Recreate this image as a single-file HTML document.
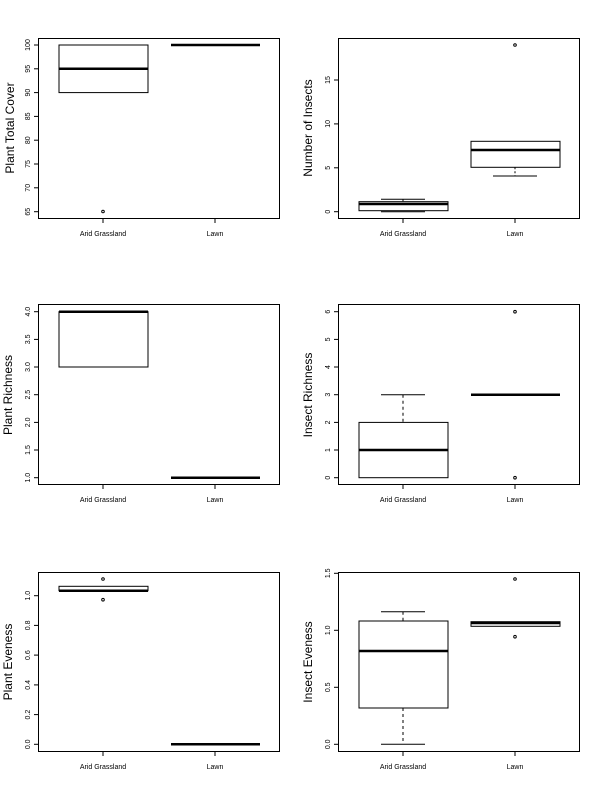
<!DOCTYPE html>
<html><head><meta charset="utf-8"><style>html,body{margin:0;padding:0;background:#fff}svg{display:block}</style></head>
<body>
<svg width="600" height="800" xmlns="http://www.w3.org/2000/svg" font-family="Liberation Sans, sans-serif">
<rect width="600" height="800" fill="#fff"/>
<g stroke="#000" fill="none" stroke-width="1">
<!-- frames -->
<rect x="38.5" y="38.5" width="241" height="180"/>
<rect x="338.5" y="38.5" width="241" height="180"/>
<rect x="38.5" y="304.5" width="241" height="180"/>
<rect x="338.5" y="304.5" width="241" height="180"/>
<rect x="38.5" y="572.5" width="241" height="179"/>
<rect x="338.5" y="572.5" width="241" height="179"/>
</g>

<!-- ============ Panel 1: Plant Total Cover ============ -->
<g stroke="#000" fill="none">
<line x1="38.5" y1="45" x2="38.5" y2="211.7"/>
<line x1="34" y1="45" x2="38.5" y2="45"/><line x1="34" y1="68.8" x2="38.5" y2="68.8"/><line x1="34" y1="92.6" x2="38.5" y2="92.6"/><line x1="34" y1="116.4" x2="38.5" y2="116.4"/><line x1="34" y1="140.2" x2="38.5" y2="140.2"/><line x1="34" y1="164" x2="38.5" y2="164"/><line x1="34" y1="187.8" x2="38.5" y2="187.8"/><line x1="34" y1="211.7" x2="38.5" y2="211.7"/>
<line x1="103" y1="218.5" x2="215" y2="218.5"/><line x1="103" y1="218.5" x2="103" y2="223"/><line x1="215" y1="218.5" x2="215" y2="223"/>
<rect x="59" y="45" width="89" height="47.6"/>
<line x1="59" y1="68.8" x2="148" y2="68.8" stroke-width="2.5"/>
<line x1="171" y1="45" x2="260" y2="45" stroke-width="2.5"/>
<circle cx="103" cy="211.5" r="1.3"/>
</g>
<g font-size="7" text-anchor="middle">
<text transform="translate(30,45) rotate(-90)">100</text><text transform="translate(30,68.8) rotate(-90)">95</text><text transform="translate(30,92.6) rotate(-90)">90</text><text transform="translate(30,116.4) rotate(-90)">85</text><text transform="translate(30,140.2) rotate(-90)">80</text><text transform="translate(30,164) rotate(-90)">75</text><text transform="translate(30,187.8) rotate(-90)">70</text><text transform="translate(30,211.7) rotate(-90)">65</text>
<text x="103" y="236">Arid Grassland</text><text x="215" y="236">Lawn</text>
</g>
<text transform="translate(14,128) rotate(-90)" font-size="12" text-anchor="middle">Plant Total Cover</text>

<!-- ============ Panel 2: Number of Insects ============ -->
<g stroke="#000" fill="none">
<line x1="338.5" y1="80" x2="338.5" y2="211.7"/>
<line x1="334" y1="80" x2="338.5" y2="80"/><line x1="334" y1="123.9" x2="338.5" y2="123.9"/><line x1="334" y1="167.8" x2="338.5" y2="167.8"/><line x1="334" y1="211.7" x2="338.5" y2="211.7"/>
<line x1="403" y1="218.5" x2="515" y2="218.5"/><line x1="403" y1="218.5" x2="403" y2="223"/><line x1="515" y1="218.5" x2="515" y2="223"/>
<rect x="359" y="201.7" width="89" height="9"/>
<line x1="359" y1="204" x2="448" y2="204" stroke-width="2.5"/>
<line x1="403" y1="199.3" x2="403" y2="201.7" stroke-dasharray="2,2"/><line x1="381" y1="199.3" x2="425" y2="199.3"/>
<line x1="381" y1="211.7" x2="425" y2="211.7"/>
<rect x="471" y="141.3" width="89" height="26"/>
<line x1="471" y1="150" x2="560" y2="150" stroke-width="2.5"/>
<line x1="515" y1="167.3" x2="515" y2="176" stroke-dasharray="2,2"/><line x1="493" y1="176" x2="537" y2="176"/>
<circle cx="515" cy="45" r="1.3"/>
</g>
<g font-size="7" text-anchor="middle">
<text transform="translate(330,80) rotate(-90)">15</text><text transform="translate(330,123.9) rotate(-90)">10</text><text transform="translate(330,167.8) rotate(-90)">5</text><text transform="translate(330,211.7) rotate(-90)">0</text>
<text x="403" y="236">Arid Grassland</text><text x="515" y="236">Lawn</text>
</g>
<text transform="translate(312,128) rotate(-90)" font-size="12" text-anchor="middle">Number of Insects</text>

<!-- ============ Panel 3: Plant Richness ============ -->
<g stroke="#000" fill="none">
<line x1="38.5" y1="311.7" x2="38.5" y2="477.7"/>
<line x1="34" y1="311.7" x2="38.5" y2="311.7"/><line x1="34" y1="339.4" x2="38.5" y2="339.4"/><line x1="34" y1="367" x2="38.5" y2="367"/><line x1="34" y1="394.7" x2="38.5" y2="394.7"/><line x1="34" y1="422.4" x2="38.5" y2="422.4"/><line x1="34" y1="450" x2="38.5" y2="450"/><line x1="34" y1="477.7" x2="38.5" y2="477.7"/>
<line x1="103" y1="484.5" x2="215" y2="484.5"/><line x1="103" y1="484.5" x2="103" y2="489"/><line x1="215" y1="484.5" x2="215" y2="489"/>
<rect x="59" y="311.7" width="89" height="55.3"/>
<line x1="59" y1="311.7" x2="148" y2="311.7" stroke-width="2.5"/>
<line x1="171" y1="477.7" x2="260" y2="477.7" stroke-width="2.5"/>
</g>
<g font-size="7" text-anchor="middle">
<text transform="translate(30,311.7) rotate(-90)">4.0</text><text transform="translate(30,339.4) rotate(-90)">3.5</text><text transform="translate(30,367) rotate(-90)">3.0</text><text transform="translate(30,394.7) rotate(-90)">2.5</text><text transform="translate(30,422.4) rotate(-90)">2.0</text><text transform="translate(30,450) rotate(-90)">1.5</text><text transform="translate(30,477.7) rotate(-90)">1.0</text>
<text x="103" y="502">Arid Grassland</text><text x="215" y="502">Lawn</text>
</g>
<text transform="translate(12,395) rotate(-90)" font-size="12" text-anchor="middle">Plant Richness</text>

<!-- ============ Panel 4: Insect Richness ============ -->
<g stroke="#000" fill="none">
<line x1="338.5" y1="311.7" x2="338.5" y2="477.7"/>
<line x1="334" y1="311.7" x2="338.5" y2="311.7"/><line x1="334" y1="339.4" x2="338.5" y2="339.4"/><line x1="334" y1="367" x2="338.5" y2="367"/><line x1="334" y1="394.7" x2="338.5" y2="394.7"/><line x1="334" y1="422.4" x2="338.5" y2="422.4"/><line x1="334" y1="450" x2="338.5" y2="450"/><line x1="334" y1="477.7" x2="338.5" y2="477.7"/>
<line x1="403" y1="484.5" x2="515" y2="484.5"/><line x1="403" y1="484.5" x2="403" y2="489"/><line x1="515" y1="484.5" x2="515" y2="489"/>
<rect x="359" y="422.4" width="89" height="55.3"/>
<line x1="359" y1="450" x2="448" y2="450" stroke-width="2.5"/>
<line x1="403" y1="394.7" x2="403" y2="422.4" stroke-dasharray="3,3"/><line x1="381" y1="394.7" x2="425" y2="394.7"/>
<line x1="471" y1="394.7" x2="560" y2="394.7" stroke-width="2.5"/>
<circle cx="515" cy="311.7" r="1.3"/><circle cx="515" cy="477.7" r="1.3"/>
</g>
<g font-size="7" text-anchor="middle">
<text transform="translate(330,311.7) rotate(-90)">6</text><text transform="translate(330,339.4) rotate(-90)">5</text><text transform="translate(330,367) rotate(-90)">4</text><text transform="translate(330,394.7) rotate(-90)">3</text><text transform="translate(330,422.4) rotate(-90)">2</text><text transform="translate(330,450) rotate(-90)">1</text><text transform="translate(330,477.7) rotate(-90)">0</text>
<text x="403" y="502">Arid Grassland</text><text x="515" y="502">Lawn</text>
</g>
<text transform="translate(312,395) rotate(-90)" font-size="12" text-anchor="middle">Insect Richness</text>

<!-- ============ Panel 5: Plant Eveness ============ -->
<g stroke="#000" fill="none">
<line x1="38.5" y1="595.7" x2="38.5" y2="744.3"/>
<line x1="34" y1="595.7" x2="38.5" y2="595.7"/><line x1="34" y1="625.4" x2="38.5" y2="625.4"/><line x1="34" y1="655.1" x2="38.5" y2="655.1"/><line x1="34" y1="684.9" x2="38.5" y2="684.9"/><line x1="34" y1="714.6" x2="38.5" y2="714.6"/><line x1="34" y1="744.3" x2="38.5" y2="744.3"/>
<line x1="103" y1="751.5" x2="215" y2="751.5"/><line x1="103" y1="751.5" x2="103" y2="756"/><line x1="215" y1="751.5" x2="215" y2="756"/>
<rect x="59" y="586.3" width="89" height="4.4"/>
<line x1="59" y1="590.7" x2="148" y2="590.7" stroke-width="2.5"/>
<circle cx="103" cy="579" r="1.3"/><circle cx="103" cy="599.7" r="1.3"/>
<line x1="171" y1="744.3" x2="260" y2="744.3" stroke-width="2.5"/>
</g>
<g font-size="7" text-anchor="middle">
<text transform="translate(30,595.7) rotate(-90)">1.0</text><text transform="translate(30,625.4) rotate(-90)">0.8</text><text transform="translate(30,655.1) rotate(-90)">0.6</text><text transform="translate(30,684.9) rotate(-90)">0.4</text><text transform="translate(30,714.6) rotate(-90)">0.2</text><text transform="translate(30,744.3) rotate(-90)">0.0</text>
<text x="103" y="769">Arid Grassland</text><text x="215" y="769">Lawn</text>
</g>
<text transform="translate(12,662) rotate(-90)" font-size="12" text-anchor="middle">Plant Eveness</text>

<!-- ============ Panel 6: Insect Eveness ============ -->
<g stroke="#000" fill="none">
<line x1="338.5" y1="573.3" x2="338.5" y2="744.3"/>
<line x1="334" y1="573.3" x2="338.5" y2="573.3"/><line x1="334" y1="630.3" x2="338.5" y2="630.3"/><line x1="334" y1="687.3" x2="338.5" y2="687.3"/><line x1="334" y1="744.3" x2="338.5" y2="744.3"/>
<line x1="403" y1="751.5" x2="515" y2="751.5"/><line x1="403" y1="751.5" x2="403" y2="756"/><line x1="515" y1="751.5" x2="515" y2="756"/>
<rect x="359" y="621" width="89" height="87"/>
<line x1="359" y1="651" x2="448" y2="651" stroke-width="2.5"/>
<line x1="403" y1="611.7" x2="403" y2="621" stroke-dasharray="3,3"/><line x1="381" y1="611.7" x2="425" y2="611.7"/>
<line x1="403" y1="708" x2="403" y2="744.3" stroke-dasharray="3,3"/><line x1="381" y1="744.3" x2="425" y2="744.3"/>
<rect x="471" y="621.7" width="89" height="4.6"/>
<line x1="471" y1="623" x2="560" y2="623" stroke-width="2.5"/>
<circle cx="515" cy="579" r="1.3"/><circle cx="515" cy="636.7" r="1.3"/>
</g>
<g font-size="7" text-anchor="middle">
<text transform="translate(330,573.3) rotate(-90)">1.5</text><text transform="translate(330,630.3) rotate(-90)">1.0</text><text transform="translate(330,687.3) rotate(-90)">0.5</text><text transform="translate(330,744.3) rotate(-90)">0.0</text>
<text x="403" y="769">Arid Grassland</text><text x="515" y="769">Lawn</text>
</g>
<text transform="translate(312,662) rotate(-90)" font-size="12" text-anchor="middle">Insect Eveness</text>
</svg>
</body></html>
